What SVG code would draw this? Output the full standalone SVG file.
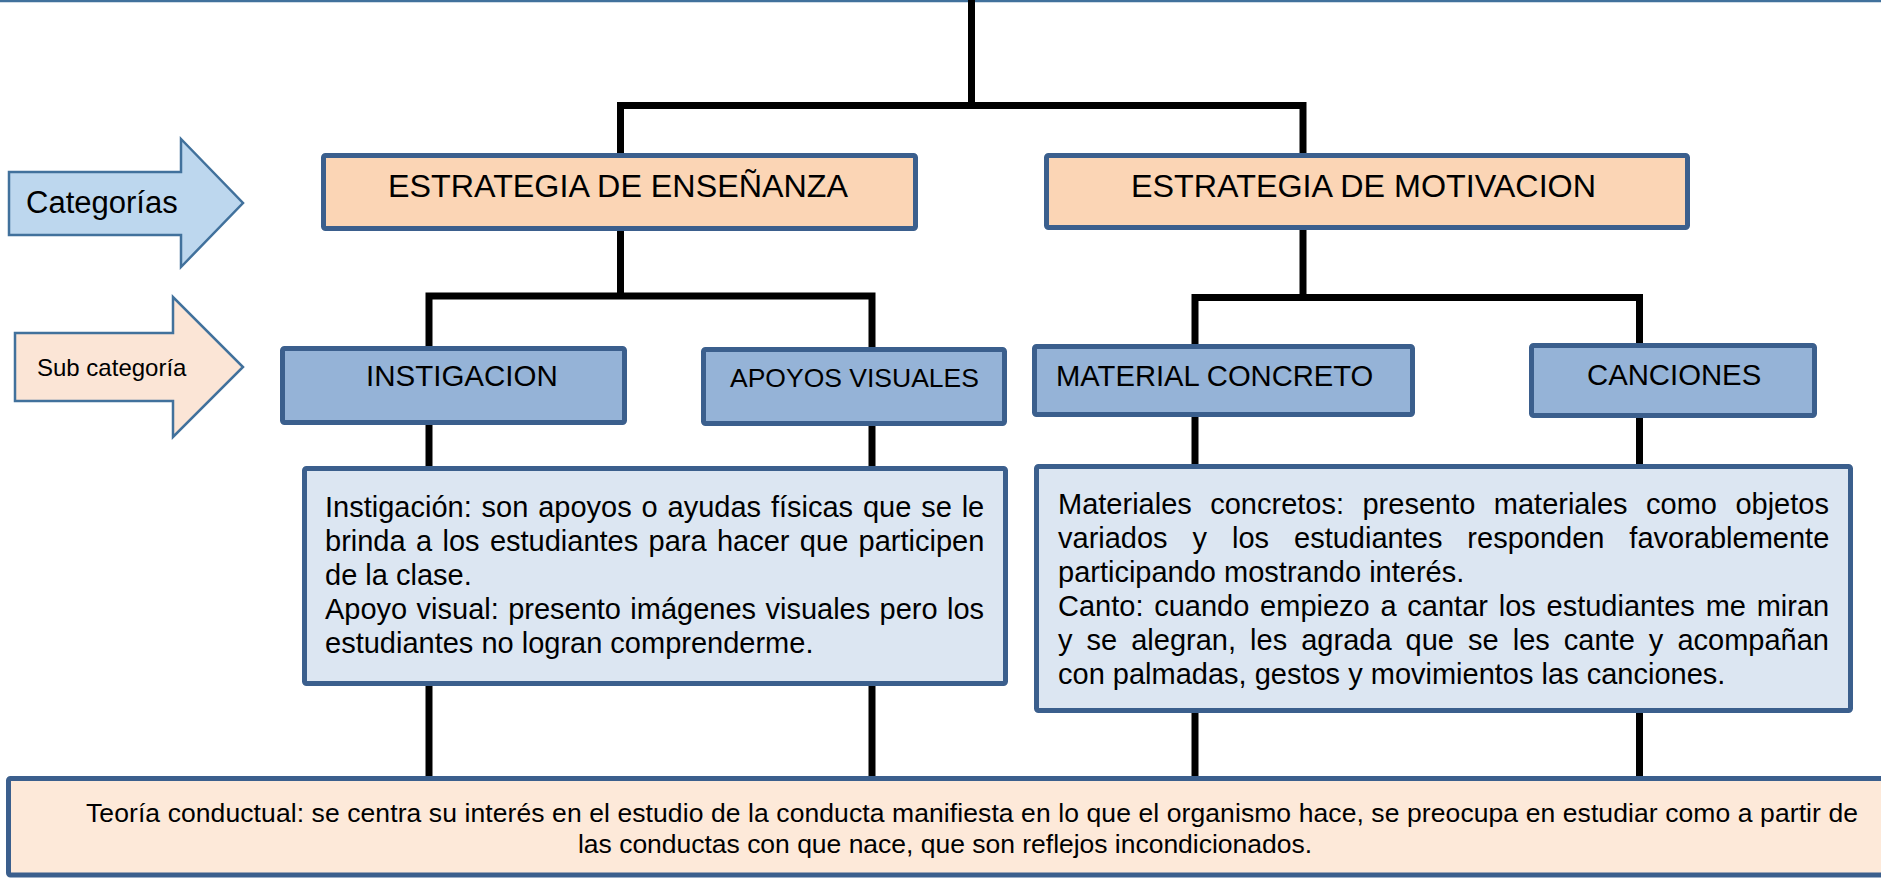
<svg xmlns="http://www.w3.org/2000/svg" width="1881" height="878" viewBox="0 0 1881 878">
<style>
.t{font-family:"Liberation Sans",Arial,sans-serif;fill:#000}
.box{stroke:#3b5f8d;stroke-width:5}
.cat{fill:#fbd5b5}
.sub{fill:#95b3d7}
.desc{fill:#dce6f2}
.base{fill:#fde9d9}
.conn{fill:none;stroke:#000;stroke-width:7;stroke-linejoin:miter}
.arr{stroke:#41719c;stroke-width:2.5}
</style>
<line x1="0" y1="1" x2="1881" y2="1" stroke="#41719c" stroke-width="2.5"/>
<g id="connectors" class="conn">
<path d="M971.5,0 V106"/>
<path d="M620.5,154 V105.5 H1303 V154"/>
<path d="M620.5,229 V296"/>
<path d="M429,347 V296 H872 V348"/>
<path d="M1303,228 V297.5"/>
<path d="M1195,346 V297.5 H1639.5 V343"/>
<path d="M429,424 V466"/>
<path d="M872,425 V466"/>
<path d="M1195,416 V464"/>
<path d="M1639.5,418 V464"/>
<path d="M429,686 V776"/>
<path d="M872,686 V776"/>
<path d="M1195,713 V776"/>
<path d="M1639.5,713 V776"/>
</g>
<g id="arrow-categorias">
<path class="arr" d="M9,172 H181 V139 L243,203 L181,267 V235 H9 Z" fill="#bdd7ee"/>
<text class="t" x="26" y="213" font-size="31">Categorías</text>
</g>
<g id="arrow-subcategoria">
<path class="arr" d="M15,333 H173 V297 L243,367 L173,437 V401 H15 Z" fill="#fbe5d6"/>
<text class="t" x="37" y="376" font-size="24">Sub categoría</text>
</g>
<g id="estrategia-ensenanza">
<rect class="box cat" x="323.5" y="155.5" width="592" height="73" rx="2"/>
<text class="t" x="388" y="197" font-size="31.5" textLength="460" lengthAdjust="spacingAndGlyphs">ESTRATEGIA DE ENSEÑANZA</text>
</g>
<g id="estrategia-motivacion">
<rect class="box cat" x="1046.5" y="155.5" width="641" height="72" rx="2"/>
<text class="t" x="1131" y="197" font-size="31.5" textLength="465" lengthAdjust="spacingAndGlyphs">ESTRATEGIA DE MOTIVACION</text>
</g>
<g id="instigacion">
<rect class="box sub" x="282.5" y="348.5" width="342" height="74" rx="2"/>
<text class="t" x="366" y="386" font-size="29.5">INSTIGACION</text>
</g>
<g id="apoyos-visuales">
<rect class="box sub" x="703.5" y="349.5" width="301" height="74" rx="2"/>
<text class="t" x="730" y="387" font-size="26.5">APOYOS VISUALES</text>
</g>
<g id="material-concreto">
<rect class="box sub" x="1034.5" y="346.5" width="378" height="68" rx="2"/>
<text class="t" x="1056" y="386" font-size="29.2">MATERIAL CONCRETO</text>
</g>
<g id="canciones">
<rect class="box sub" x="1531.5" y="345.5" width="283" height="70" rx="2"/>
<text class="t" x="1587" y="385" font-size="29.3">CANCIONES</text>
</g>
<g id="desc-ensenanza">
<rect class="box desc" x="304.5" y="468.5" width="701" height="215" rx="2"/>
<g class="t" font-size="29">
<text x="325" y="517" word-spacing="1.8">Instigación: son apoyos o ayudas físicas que se le</text>
<text x="325" y="551" word-spacing="2.3">brinda a los estudiantes para hacer que participen</text>
<text x="325" y="585">de la clase.</text>
<text x="325" y="619" word-spacing="1.3">Apoyo visual: presento imágenes visuales pero los</text>
<text x="325" y="653">estudiantes no logran comprenderme.</text>
</g>
</g>
<g id="desc-motivacion">
<rect class="box desc" x="1036.5" y="466.5" width="814" height="244" rx="2"/>
<g class="t" font-size="29">
<text x="1058" y="514" word-spacing="10.4">Materiales concretos: presento materiales como objetos</text>
<text x="1058" y="548" word-spacing="16.9">variados y los estudiantes responden favorablemente</text>
<text x="1058" y="582">participando mostrando interés.</text>
<text x="1058" y="616" word-spacing="2.7">Canto: cuando empiezo a cantar los estudiantes me miran</text>
<text x="1058" y="650" word-spacing="6.0">y se alegran, les agrada que se les cante y acompañan</text>
<text x="1058" y="684">con palmadas, gestos y movimientos las canciones.</text>
</g>
</g>
<g id="teoria-conductual">
<rect class="box base" x="8.5" y="778.5" width="1900" height="96.5" rx="2"/>
<g class="t" font-size="26.5">
<text x="86" y="822" textLength="1772" lengthAdjust="spacing">Teoría conductual: se centra su interés en el estudio de la conducta manifiesta en lo que el organismo hace, se preocupa en estudiar como a partir de</text>
<text x="578" y="853" textLength="734" lengthAdjust="spacing">las conductas con que nace, que son reflejos incondicionados.</text>
</g>
</g>
</svg>
